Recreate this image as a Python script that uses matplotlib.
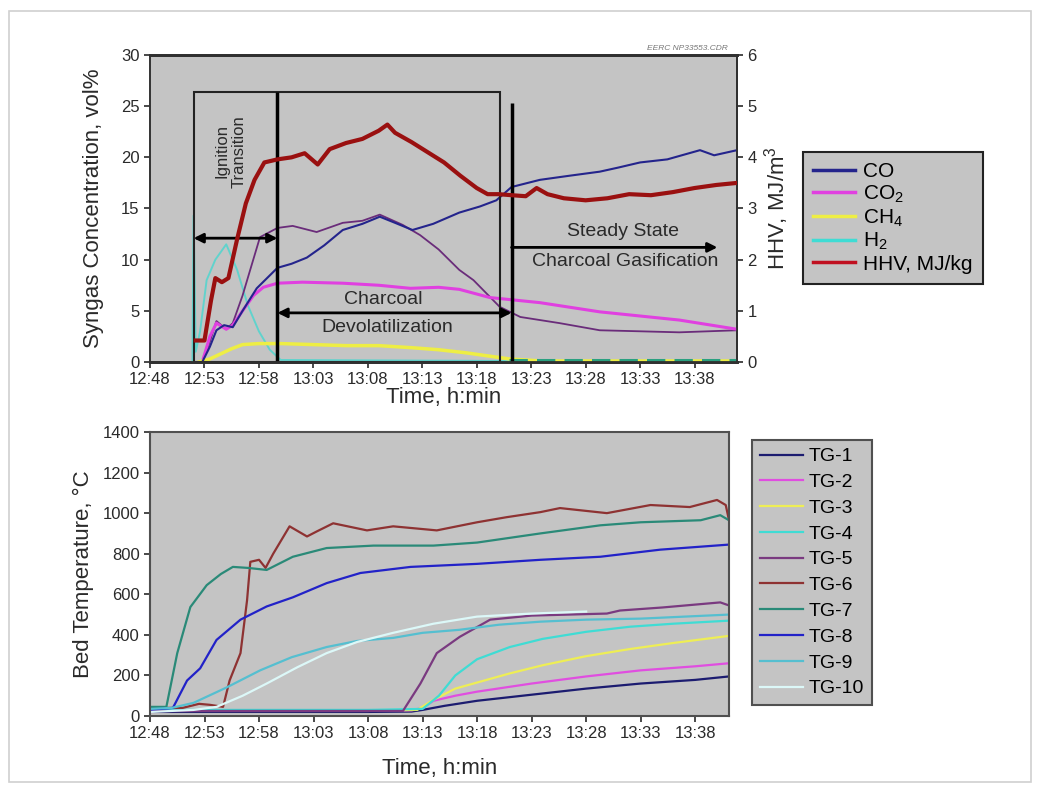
import matplotlib
matplotlib.use("Agg")
import matplotlib.pyplot as plt
from matplotlib.lines import Line2D
from matplotlib.patches import Rectangle

plt.rcParams["font.family"] = ["Liberation Sans", "DejaVu Sans"]
plt.rcParams["mathtext.fontset"] = "custom"
plt.rcParams["mathtext.rm"] = "Liberation Sans"

# x values: minutes after 12:48
TICK_POS = [0, 5, 10, 15, 20, 25, 30, 35, 40, 45, 50]
TICK_LABELS = ["12:48", "12:53", "12:58", "13:03", "13:08", "13:13",
               "13:18", "13:23", "13:28", "13:33", "13:38"]

# --- syngas panel ---
co_t = [4.8, 5.5, 6.1, 6.8, 7.6, 8.5, 9.8, 11.7, 13.0, 14.4, 16.0, 17.7, 19.5, 21.1, 22.5,
        24.1, 26.0, 28.4, 30.3, 31.8, 33.2, 35.8, 38.5, 41.3, 43.0, 45.0, 47.5, 50.5, 51.8, 53.9]
co_v = [0.0, 1.5, 3.1, 3.6, 3.4, 5.0, 7.2, 9.2, 9.6, 10.2, 11.4, 12.9, 13.5, 14.2, 13.6,
        12.9, 13.5, 14.6, 15.2, 15.8, 17.1, 17.8, 18.2, 18.6, 19.0, 19.5, 19.8, 20.7, 20.2, 20.7]

co2_t = [4.8, 5.5, 6.1, 7.0, 7.6, 8.5, 9.5, 10.4, 11.7, 14.0, 17.7, 21.0, 23.9, 26.5, 28.4,
         31.2, 35.8, 41.3, 48.6, 53.9]
co2_v = [0.0, 2.5, 3.8, 3.2, 3.6, 5.0, 6.5, 7.3, 7.7, 7.8, 7.7, 7.5, 7.2, 7.3, 7.1,
         6.3, 5.8, 4.9, 4.1, 3.2]

ch4_t = [4.5, 5.5, 6.5, 7.5, 8.5, 10.0, 12.0, 15.0, 18.0, 21.0, 24.0, 26.5, 29.0, 31.0, 33.0, 36.0, 53.9]
ch4_v = [0.0, 0.3, 0.8, 1.3, 1.7, 1.8, 1.8, 1.7, 1.6, 1.6, 1.4, 1.2, 0.9, 0.6, 0.3, 0.1, 0.1]

h2_t = [3.9, 4.0, 4.2, 4.6, 5.2, 6.0, 7.0, 8.0, 9.0, 10.0, 11.0, 12.0, 33.0]
h2_v = [0.0, 14.3, 1.0, 3.0, 8.0, 10.0, 11.5, 9.0, 5.5, 3.0, 1.2, 0.2, 0.1]
h2_tail_t = [33.0, 53.9]
h2_tail_v = [0.15, 0.15]

# unlabelled purple trace
other_t = [4.8, 5.5, 6.1, 7.0, 7.6, 8.5, 9.2, 10.1, 11.7, 13.1, 15.3, 17.7, 19.5, 21.1, 23.2,
           24.8, 26.5, 28.4, 29.7, 32.1, 34.0, 37.6, 41.3, 45.0, 48.6, 53.9]
other_v = [0.0, 2.0, 4.0, 3.2, 3.8, 6.5, 9.0, 12.2, 13.1, 13.3, 12.7, 13.6, 13.8, 14.4, 13.4,
           12.4, 11.0, 9.0, 8.0, 5.4, 4.4, 3.8, 3.1, 3.0, 2.9, 3.1]

hhv_t = [4.2, 5.0, 5.6, 6.0, 6.6, 7.2, 8.0, 8.8, 9.6, 10.5, 11.7, 13.0, 14.2, 15.4, 16.5, 18.0,
         19.5, 21.0, 21.8, 22.5, 24.0, 25.5, 27.0, 28.5, 30.0, 31.0, 32.0, 33.2, 34.5, 35.5,
         36.5, 38.0, 40.0, 42.0, 44.0, 46.0, 48.0, 50.0, 52.0, 53.9]
hhv_v = [0.42, 0.42, 1.2, 1.64, 1.56, 1.64, 2.4, 3.1, 3.56, 3.9, 3.96, 4.0, 4.08, 3.86, 4.16, 4.28,
         4.36, 4.52, 4.64, 4.48, 4.3, 4.1, 3.9, 3.64, 3.4, 3.28, 3.28, 3.26, 3.24, 3.4,
         3.28, 3.2, 3.16, 3.2, 3.28, 3.26, 3.32, 3.4, 3.46, 3.5]

# --- bed temperature panel ---
tg_t = {
    "TG-1": [0, 10, 20, 24, 25, 27, 30, 35, 40, 45, 50, 53.1],
    "TG-2": [0, 10, 20, 24, 25, 26, 28, 30, 35, 40, 45, 50, 53.1],
    "TG-3": [0, 10, 20, 24.5, 26, 28, 30, 33, 36, 40, 44, 48, 53.1],
    "TG-4": [0, 10, 20, 25, 26.5, 28, 30, 33, 36, 40, 44, 48, 53.1],
    "TG-5": [0, 10, 20, 23.2, 24.8, 26.3, 28.4, 31.2, 35, 41.9, 43.1, 47, 52.3, 53.1],
    "TG-6": [0, 3, 4.5, 5.5, 6.7, 7.3, 8.3, 8.9, 9.2, 10.0, 10.6, 11.3, 12.8, 14.4, 15.3, 16.8,
             19.9, 22.3, 26.3, 30.0, 32.7, 35.8, 37.6, 41.9, 45.9, 49.5, 52.0, 52.8, 53.1],
    "TG-7": [0, 1.5, 2.5, 3.7, 5.2, 6.5, 7.6, 9.0, 10.7, 13.1, 16.2, 20.5, 26.0, 30.0, 35.8,
             41.3, 45.0, 50.5, 52.3, 53.1],
    "TG-8": [0, 2.1, 3.4, 4.6, 6.1, 8.3, 10.7, 13.1, 16.2, 19.3, 23.9, 30.0, 35.8, 41.3, 46.8, 53.1],
    "TG-9": [0, 2, 4, 7, 10.1, 13, 16.2, 19, 22.3, 25, 28.4, 32, 35.8, 40, 45, 53.1],
    "TG-10": [0, 4, 6.1, 8.5, 10.7, 13.5, 16.2, 19, 22.3, 26, 30, 35, 40],
}
tg_v = {
    "TG-1": [20, 20, 20, 22, 30, 50, 75, 105, 135, 160, 178, 195],
    "TG-2": [25, 25, 25, 28, 40, 75, 100, 120, 160, 195, 225, 245, 260],
    "TG-3": [25, 25, 25, 30, 80, 135, 165, 210, 250, 295, 330, 360, 395],
    "TG-4": [30, 30, 30, 35, 100, 200, 280, 340, 380, 415, 440, 455, 470],
    "TG-5": [25, 25, 25, 25, 160, 310, 390, 475, 495, 505, 520, 535, 560, 545],
    "TG-6": [40, 40, 60, 55, 45, 175, 310, 570, 760, 770, 730, 800, 935, 885, 910, 950,
             915, 935, 915, 955, 980, 1005, 1025, 1000, 1040, 1030, 1065, 1040, 965],
    "TG-7": [45, 45, 310, 537, 645, 700, 735, 730, 720, 785, 828, 840, 840, 855, 900,
             940, 955, 965, 990, 965],
    "TG-8": [30, 40, 175, 235, 375, 475, 540, 585, 655, 705, 735, 750, 770, 785, 820, 845],
    "TG-9": [35, 40, 65, 140, 225, 290, 340, 370, 385, 410, 425, 450, 465, 475, 480, 500],
    "TG-10": [20, 30, 45, 100, 160, 240, 310, 365, 410, 455, 490, 505, 515],
}
tg_colors = {
    "TG-1": "#1c1c70", "TG-2": "#e04ee0", "TG-3": "#eeee55", "TG-4": "#3fdcd4",
    "TG-5": "#7a3a80", "TG-6": "#8e3232", "TG-7": "#2a8a78", "TG-8": "#2222c8",
    "TG-9": "#55bfd0", "TG-10": "#dcf8f8",
}

PLOT_BG = "#c4c4c4"
TEXT = "#2a2a2a"

fig = plt.figure(figsize=(10.39, 7.90), dpi=100)
fig.patch.set_facecolor("white")
fig.add_artist(Rectangle((9 / 1039, 1 - 782 / 790), 1022 / 1039, 771 / 790,
                         transform=fig.transFigure, fill=False, edgecolor="#d0d0d0", lw=1.2))

# ---------------- top panel ----------------
ax1 = fig.add_axes([150 / 1039, 1 - 362 / 790, 587 / 1039, 307 / 790])
ax1.set_facecolor(PLOT_BG)
ax1.set_xlim(0, 53.9)
ax1.set_ylim(0, 30)
ax2 = ax1.twinx()
ax2.set_ylim(0, 6)

ax1.plot(h2_t, h2_v, color="#40d8d0", lw=1.4, alpha=0.75, zorder=3)
ax1.plot(other_t, other_v, color="#6a2c7a", lw=1.3, zorder=3)
ax1.plot(co2_t, co2_v, color="#e040e0", lw=2.2, zorder=3)
ax1.plot(co_t, co_v, color="#24248c", lw=1.5, zorder=4)
ax1.plot(ch4_t, ch4_v, color="#eeee44", lw=2.5, zorder=3)
ax1.plot(h2_tail_t, h2_tail_v, color="#2aa080", lw=2.2, ls=(0, (6, 3)), zorder=3)
ax2.plot(hhv_t, hhv_v, color="#9a1010", lw=3, zorder=5)

# phase markers
ax1.add_patch(Rectangle((4.0, 0), 28.1, 26.4, fill=False, edgecolor="#222222", lw=1.5, zorder=6))
ax1.vlines(11.7, 0, 26.4, color="black", lw=2.5, zorder=6)
ax1.vlines(33.2, 0, 25.3, color="black", lw=2.5, zorder=6)

arrow = dict(arrowstyle="<|-|>", color="black", lw=2, mutation_scale=14, shrinkA=0, shrinkB=0)
ax1.annotate("", xy=(4.0, 12.1), xytext=(11.7, 12.1), arrowprops=arrow, zorder=7)
ax1.annotate("", xy=(11.7, 4.8), xytext=(33.2, 4.8), arrowprops=arrow, zorder=7)
ax1.annotate("", xy=(52.1, 11.2), xytext=(33.2, 11.2),
             arrowprops=dict(arrowstyle="-|>", color="black", lw=2, mutation_scale=14,
                             shrinkA=0, shrinkB=0), zorder=7)

ax1.text(7.4, 20.6, "Ignition\nTransition", rotation=90, ha="center", va="center",
         fontsize=12, color=TEXT, linespacing=1.1, zorder=8)
ax1.text(21.4, 6.1, "Charcoal", ha="center", va="center", fontsize=14, color=TEXT, zorder=8)
ax1.text(21.8, 3.4, "Devolatilization", ha="center", va="center", fontsize=14, color=TEXT, zorder=8)
ax1.text(43.4, 12.8, "Steady State", ha="center", va="center", fontsize=14, color=TEXT, zorder=8)
ax1.text(43.6, 9.8, "Charcoal Gasification", ha="center", va="center", fontsize=14,
         color=TEXT, zorder=8)
ax1.text(0.985, 1.01, "EERC NP33553.CDR", transform=ax1.transAxes, ha="right", va="bottom",
         fontsize=6, style="italic", color="#777777")

ax1.set_xticks(TICK_POS)
ax1.set_xticklabels(TICK_LABELS)
ax1.set_yticks(range(0, 31, 5))
ax2.set_yticks(range(0, 7))
ax1.tick_params(labelsize=12, colors=TEXT, length=4, width=1.2)
ax2.tick_params(labelsize=12, colors=TEXT, length=4, width=1.2)
ax1.set_xlabel("Time, h:min", fontsize=16, color=TEXT, labelpad=0)
ax1.set_ylabel("Syngas Concentration, vol%", fontsize=16, color=TEXT, labelpad=12)
ax2.set_ylabel("HHV, MJ/m$^\\mathregular{3}$", fontsize=16, color=TEXT, labelpad=4)
for ax in (ax1, ax2):
    for side, sp in ax.spines.items():
        sp.set_color("#303030")
        sp.set_linewidth(2 if side in ("top", "bottom") else 1.3)
ax1.spines["left"].set_color("#707070")

top_handles = [
    Line2D([], [], color="#24248c", lw=2.5),
    Line2D([], [], color="#e040e0", lw=2.5),
    Line2D([], [], color="#eeee44", lw=2.5),
    Line2D([], [], color="#3fdcd4", lw=2.5),
    Line2D([], [], color="#c01020", lw=2.5),
]
top_labels = ["CO", "CO$_\\mathregular{2}$", "CH$_\\mathregular{4}$", "H$_\\mathregular{2}$",
              "HHV, MJ/kg"]
fig.legend(top_handles, top_labels, loc="upper left",
           bbox_to_anchor=(803 / 1039, 1 - 152 / 790), fontsize=15, frameon=True,
           fancybox=False, facecolor=PLOT_BG, edgecolor="#222222", framealpha=1,
           handlelength=2.0, handletextpad=0.4, labelspacing=0.1, borderpad=0.5,
           borderaxespad=0).get_frame().set_linewidth(1.5)

# ---------------- bottom panel ----------------
ax3 = fig.add_axes([150 / 1039, 1 - 716 / 790, 579 / 1039, 284 / 790])
ax3.set_facecolor(PLOT_BG)
ax3.set_xlim(0, 53.1)
ax3.set_ylim(0, 1400)
for name in tg_t:
    ax3.plot(tg_t[name], tg_v[name], color=tg_colors[name], lw=1.6, label=name)

ax3.set_xticks(TICK_POS)
ax3.set_xticklabels(TICK_LABELS)
ax3.set_yticks(range(0, 1401, 200))
ax3.tick_params(labelsize=12, colors=TEXT, length=4, width=1.2)
ax3.set_xlabel("Time, h:min", fontsize=16, color=TEXT, labelpad=12)
ax3.set_ylabel("Bed Temperature, \u00b0C", fontsize=16, color=TEXT, labelpad=6)
for sp in ax3.spines.values():
    sp.set_color("#505050")
    sp.set_linewidth(1.5)

fig.legend(*ax3.get_legend_handles_labels(), loc="upper left",
           bbox_to_anchor=(752 / 1039, 1 - 440 / 790), fontsize=14, frameon=True,
           fancybox=False, facecolor=PLOT_BG, edgecolor="#505050", framealpha=1,
           handlelength=2.2, handletextpad=0.3, labelspacing=0.42, borderpad=0.4,
           borderaxespad=0).get_frame().set_linewidth(1.5)

fig.savefig("out.png", dpi=100, facecolor=fig.get_facecolor())
